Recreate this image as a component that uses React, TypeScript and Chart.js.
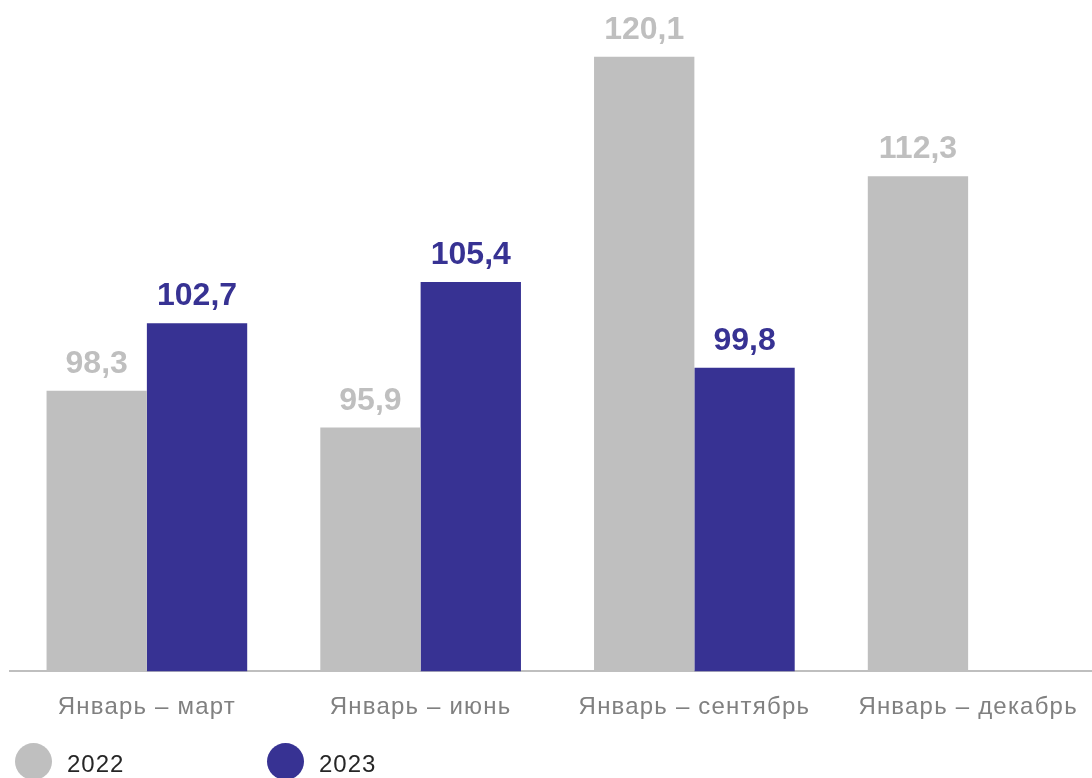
import React, { useEffect, useRef } from "react";
import { Chart, registerables } from "chart.js";

Chart.register(...registerables);

const categories = ["Январь – март", "Январь – июнь", "Январь – сентябрь", "Январь – декабрь"];
const values2022: (number | null)[] = [98.3, 95.9, 120.1, 112.3];
const values2023: (number | null)[] = [102.7, 105.4, 99.8, null];
const seriesNames = ["2022", "2023"];

const GRAY = "#bfbfbf";
const BLUE = "#373293";
const FONT = "'Liberation Sans', Arial, sans-serif";

const spacing = {
  id: "spacing",
  beforeDraw(chart: any) {
    (chart.ctx as any).letterSpacing = "1.2px";
  },
};

const valueLabels = {
  id: "valueLabels",
  afterDatasetsDraw(chart: any) {
    const ctx = chart.ctx;
    ctx.save();
    (ctx as any).letterSpacing = "0px";
    ctx.font = `bold 32px ${FONT}`;
    ctx.textAlign = "center";
    ctx.textBaseline = "alphabetic";
    chart.data.datasets.forEach((ds: any, di: number) => {
      const meta = chart.getDatasetMeta(di);
      meta.data.forEach((el: any, i: number) => {
        const v = ds.data[i];
        if (v === null || v === undefined) return;
        ctx.fillStyle = di === 0 ? GRAY : BLUE;
        ctx.fillText(v.toFixed(1).replace(".", ","), el.x, el.y - 18);
      });
    });
    ctx.restore();
  },
};

export default function App() {
  const ref = useRef<HTMLCanvasElement | null>(null);
  useEffect(() => {
    document.body.style.margin = "0";
    if (!ref.current) return;
    const chart = new Chart(ref.current, {
      type: "bar",
      data: {
        labels: categories,
        datasets: [
          { label: seriesNames[0], data: values2022, backgroundColor: GRAY },
          { label: seriesNames[1], data: values2023, backgroundColor: BLUE },
        ],
      },
      options: {
        animation: false,
        responsive: false,
        maintainAspectRatio: false,
        layout: { padding: { left: 10, right: 0, top: 10, bottom: 34 } },
        plugins: { legend: { display: false }, tooltip: { enabled: false } },
        datasets: { bar: { categoryPercentage: 0.733, barPercentage: 1 } },
        scales: {
          x: {
            grid: { display: false, drawTicks: false },
            border: { display: true, color: GRAY, width: 2 },
            ticks: { color: "#808080", font: { family: FONT, size: 24 }, padding: 22, maxRotation: 0 },
          },
          y: {
            display: false,
            min: 80,
            max: 123.15,
          },
        },
      },
      plugins: [spacing, valueLabels],
    });
    return () => chart.destroy();
  }, []);

  const legendItem = (color: string, text: string, left: number) => (
    <div style={{ position: "absolute", left, top: 743, display: "flex", alignItems: "center" }}>
      <div style={{ width: 37, height: 37, borderRadius: "50%", background: color }} />
      <span style={{ marginLeft: 15, fontFamily: FONT, fontSize: 24, letterSpacing: 1, color: "#262626", lineHeight: "37px", position: "relative", top: 2 }}>{text}</span>
    </div>
  );

  return (
    <div style={{ position: "fixed", left: 0, top: 0, width: 1092, height: 778, overflow: "hidden", background: "#fff" }}>
      <canvas ref={ref} width={1105} height={778} style={{ position: "absolute", left: 0, top: 0, width: 1105, height: 778 }} />
      {legendItem(GRAY, seriesNames[0], 15)}
      {legendItem(BLUE, seriesNames[1], 267)}
    </div>
  );
}
